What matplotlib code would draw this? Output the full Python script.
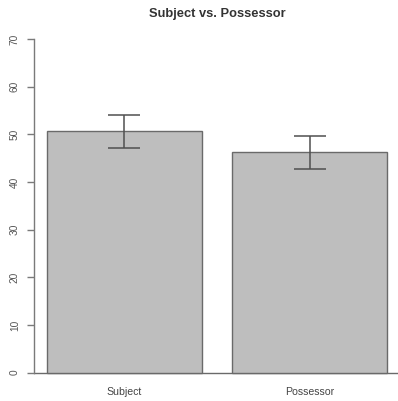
import matplotlib
matplotlib.use("Agg")
import matplotlib.pyplot as plt

categories = ["Subject", "Possessor"]
means = [50.6, 46.2]
errors = [3.4, 3.4]
y_ticks = [0, 10, 20, 30, 40, 50, 60, 70]

plt.rcParams['font.family'] = ['Liberation Sans', 'DejaVu Sans']

W, H = 398, 401
fig = plt.figure(figsize=(W / 100, H / 100), dpi=100)

# plot region in pixel coords (extends slightly past right edge)
left_px, right_px = 33.7, 400.3
top_px, bottom_px = 25.6, 386.0
ax = fig.add_axes([left_px / W, (H - bottom_px) / H,
                   (right_px - left_px) / W, (bottom_px - top_px) / H])

# bar layout: width 1, space 0.2
width = 1.0
space = 0.2
centers = [space + width / 2 + i * (width + space) for i in range(len(categories))]

ax.bar(centers, means, width=width, color="#bebebe", edgecolor="#6a6a6a",
       linewidth=1.0, zorder=2)
ax.errorbar(centers, means, yerr=errors, fmt="none", ecolor="#505050",
            elinewidth=1.1, capsize=11.5, capthick=1.1, zorder=3)

xl = (space, centers[-1] + width / 2)
pad = 0.04 * (xl[1] - xl[0])
ax.set_xlim(xl[0] - pad, xl[1] + pad)
ax.set_ylim(-2.8, 72.8)

ax.axhline(0, color="#6a6a6a", linewidth=1.0, zorder=1)

for s in ["top", "right", "bottom"]:
    ax.spines[s].set_visible(False)
ax.spines["left"].set_bounds(0, 70)
ax.spines["left"].set_color("#7a7a7a")
ax.spines["left"].set_linewidth(1.0)

ax.set_yticks(y_ticks)
ax.set_yticklabels([str(t) for t in y_ticks], rotation=90, va="center",
                   fontsize=7.3, color="#555555")
ax.tick_params(axis="y", length=5, width=1.0, color="#7a7a7a", pad=5)

ax.set_xticks(centers)
ax.set_xticklabels(categories, fontsize=7.6, color="#444444")
ax.tick_params(axis="x", length=0, pad=1)

fig.text((left_px + right_px) / 2 / W, 1 - 13.5 / H, "Subject vs. Possessor",
         ha="center", va="center", fontsize=9.3, fontweight="bold",
         color="#333333")

fig.savefig("out.png", dpi=100)
